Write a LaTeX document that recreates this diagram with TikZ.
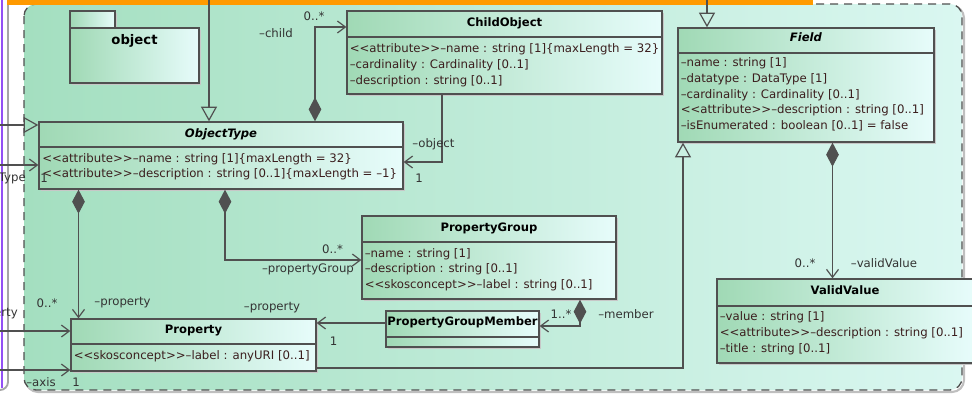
\documentclass[tikz,border=0pt]{standalone}
\usepackage{fontspec}
\setmainfont{DejaVu Sans}
\usetikzlibrary{arrows.meta,fit,shadows}

\definecolor{umlline}{HTML}{505050}
\definecolor{umltext}{HTML}{3B1E1E}
\definecolor{pkgleft}{HTML}{A4DFC0}
\definecolor{pkgright}{HTML}{DAF7F1}
\definecolor{clsleft}{HTML}{A0D9B5}
\definecolor{clsright}{HTML}{E7FCFB}
\definecolor{topbar}{HTML}{FF9A00}
\definecolor{frameviolet}{HTML}{9350F5}

\newcommand{\stereo}[1]{<{}<#1>{}>}

\tikzset{
	umlclass/.style={draw=umlline, line width=1pt, left color=clsleft, right color=clsright, inner sep=0pt,
		general shadow={fill=black!22, shadow xshift=1.2pt, shadow yshift=-1.2pt}},
	classname/.style={font=\bfseries\fontsize{8.7}{11.8}\selectfont, anchor=base, inner sep=0pt},
	attrs/.style={font=\fontsize{8.8}{11.8}\selectfont, text=umltext, align=left, anchor=north west, inner sep=0pt},
	role/.style={font=\fontsize{8.8}{11.8}\selectfont, text=black!80, anchor=base, inner sep=0pt},
	sepline/.style={draw=umlline, line width=0.9pt},
	assoc/.style={draw=umlline, line width=0.9pt, -{Straight Barb[length=6pt, width=9pt]}},
	generalize/.style={draw=umlline, line width=0.9pt, -{Triangle[open, length=11pt, width=12pt]}},
	compose/.style={draw=umlline, line width=0.9pt, {Diamond[length=18pt, width=9.5pt, fill=umlline]}-{Straight Barb[length=6pt, width=9pt]}}
}

\begin{document}
\begin{tikzpicture}[x=0.75pt, y=-0.75pt]
	\useasboundingbox (0,0) rectangle (972,400);
	\draw[frameviolet, line width=1.2pt] (2,0) -- (2,388);
	\draw[black!35, line width=1.4pt, rounded corners=6] (8,5) -- (8,390) -- (-6,390);
	\draw[black!25, line width=1.6pt, rounded corners=9] (26,6) rectangle (964,392);
	\path[left color=pkgleft, right color=pkgright, rounded corners=9] (24,4) rectangle (962,390);
	\draw[umlline, line width=1pt, dash pattern=on 6pt off 4.5pt, rounded corners=9] (24,4) rectangle (962,390);
	\fill[topbar] (7,0) rectangle (813,5);

	\node[umlclass, fit={(70,11) (115,28)}] (objtab) {};
	\node[umlclass, fit={(70,28) (199,83)}] (objpkg) {};
	\node[classname, font=\bfseries\fontsize{9.9}{12}\selectfont] (objpkgname) at (objpkg.north |- 0,44) {object};

	\node[umlclass, fit={(39,122) (403,189)}] (objtype) {};
	\node[classname] (objtypename) at (objtype.north |- 0,137) {\itshape ObjectType};
	\draw[sepline] (objtype.west |- 0,147) -- (objtype.east |- 0,147);
	\node[attrs] (objtypeattrs) at (42,153) {\stereo{attribute}–name : string [1]\{maxLength = 32\}\\
		\stereo{attribute}–description : string [0..1]\{maxLength = –1\}};

	\node[umlclass, fit={(347,11) (662,94)}] (childobj) {};
	\node[classname] (childobjname) at (childobj.north |- 0,26.5) {ChildObject};
	\draw[sepline] (childobj.west |- 0,37) -- (childobj.east |- 0,37);
	\node[attrs] (childobjattrs) at (349.5,43.5) {\stereo{attribute}–name : string [1]\{maxLength = 32\}\\
		–cardinality : Cardinality [0..1]\\
		–description : string [0..1]};

	\node[umlclass, fit={(678,28) (934,142)}] (field) {};
	\node[classname] (fieldname) at (field.north |- 0,41) {\itshape Field};
	\draw[sepline] (field.west |- 0,53) -- (field.east |- 0,53);
	\node[attrs] (fieldattrs) at (680.5,57.5) {–name : string [1]\\
		–datatype : DataType [1]\\
		–cardinality : Cardinality [0..1]\\
		\stereo{attribute}–description : string [0..1]\\
		–isEnumerated : boolean [0..1] = false};

	\node[umlclass, fit={(362,216) (616,299)}] (propgroup) {};
	\node[classname] (propgroupname) at (propgroup.north |- 0,231.5) {PropertyGroup};
	\draw[sepline] (propgroup.west |- 0,242) -- (propgroup.east |- 0,242);
	\node[attrs] (propgroupattrs) at (364.5,248) {–name : string [1]\\
		–description : string [0..1]\\
		\stereo{skosconcept}–label : string [0..1]};

	\node[umlclass, fit={(386,311) (539,347)}] (pgmember) {};
	\node[classname] (pgmembername) at (pgmember.north |- 0,325) {PropertyGroupMember};
	\draw[sepline] (pgmember.west |- 0,337) -- (pgmember.east |- 0,337);

	\node[umlclass, fit={(71,319) (316,371)}] (property) {};
	\node[classname] (propertyname) at (property.north |- 0,333) {Property};
	\draw[sepline] (property.west |- 0,344) -- (property.east |- 0,344);
	\node[attrs] (propertyattrs) at (73.5,350) {\stereo{skosconcept}–label : anyURI [0..1]};

	\node[umlclass, fit={(717,279) (973,363)}] (validvalue) {};
	\node[classname] (validvaluename) at (validvalue.north |- 0,294.5) {ValidValue};
	\draw[sepline] (validvalue.west |- 0,306) -- (validvalue.east |- 0,306);
	\node[attrs] (validvalueattrs) at (719.5,311.5) {–value : string [1]\\
		\stereo{attribute}–description : string [0..1]\\
		–title : string [0..1]};

	\coordinate (objtop) at (209,0);
	\coordinate (fieldtop) at (707,0);
	\coordinate (typegen) at (0,125);
	\coordinate (typein) at (0,165);
	\coordinate (propin) at (0,331);
	\coordinate (axisin) at (0,370);

	\draw[generalize] (objtop) -- (objtop |- objtype.north);
	\draw[generalize] (fieldtop) -- (fieldtop |- field.north);
	\draw[generalize] (typegen) -- (typegen -| objtype.west);
	\draw[assoc] (typein) -- (typein -| objtype.west);
	\draw[assoc] (propin) -- (propin -| property.west);
	\draw[assoc] (axisin) -- (axisin -| property.west);
	\draw[compose] (315,0 |- objtype.north) |- (childobj.west |- 0,27);
	\draw[assoc] (442,0 |- childobj.south) |- (objtype.east |- 0,162);
	\draw[compose] (78.5,0 |- objtype.south) -- (78.5,0 |- property.north);
	\draw[compose] (225,0 |- objtype.south) |- (propgroup.west |- 0,260);
	\draw[compose] (580,0 |- propgroup.south) |- (pgmember.east |- 0,326);
	\draw[assoc] (pgmember.west |- 0,323) -- (property.east |- 0,323);
	\draw[compose] (832.5,0 |- field.south) -- (832.5,0 |- validvalue.north);
	\draw[generalize] (property.east |- 0,368) -| (683,0 |- field.south);

	\node[role, anchor=base east] (typerole) at (26,181) {Type};
	\node[role] (typemult) at (44,182) {1};
	\node[role] (childrole) at (276,37) {–child};
	\node[role] (childmult) at (314,20) {0..*};
	\node[role] (objectrole) at (433.5,147.5) {–object};
	\node[role] (objectmult) at (419,182) {1};
	\node[role] (propmult) at (47,307) {0..*};
	\node[role] (proprole) at (122.5,305) {–property};
	\node[role] (groupmult) at (332.5,253) {0..*};
	\node[role] (grouprole) at (308,272) {–propertyGroup};
	\node[role] (memberprop) at (272,310) {–property};
	\node[role] (memberpropmult) at (333.5,345) {1};
	\node[role] (membermult) at (561,318) {1..*};
	\node[role] (memberrole) at (626,318) {–member};
	\node[role] (validmult) at (805,267) {0..*};
	\node[role] (validrole) at (884,267) {–validValue};
	\node[role, anchor=base east] (leftprop) at (18,316) {–property};
	\node[role] (axisrole) at (41,386) {–axis};
	\node[role] (axismult) at (76,386) {1};
\end{tikzpicture}
\end{document}
